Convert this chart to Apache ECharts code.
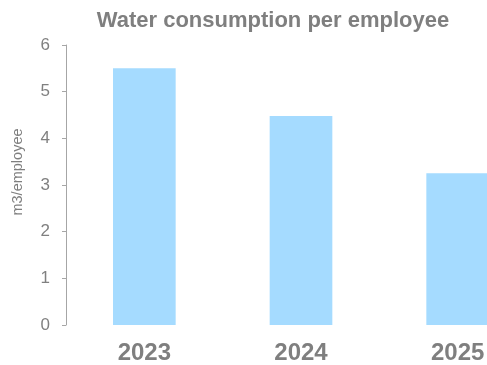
<!DOCTYPE html>
<html><head><meta charset="utf-8">
<script src="https://cdn.jsdelivr.net/npm/echarts@6/dist/echarts.min.js"></script>
<style>html,body{margin:0;padding:0;background:#fff;overflow:hidden;width:487px;height:365px}#c{width:536px;height:365px}</style>
</head><body><div id="c"></div>
<script>
var titleText = "Water consumption per employee";
var yAxisName = "m3/employee";
var categories = ["2023", "2024", "2025"];
var values = [5.5, 4.48, 3.25];
var yTicks = [0, 1, 2, 3, 4, 5, 6];

var chart = echarts.init(document.getElementById('c'), null, {renderer: 'canvas'});
chart.setOption({
  animation: false,
  backgroundColor: '#ffffff',
  title: {
    text: titleText, left: 268, top: 5, textAlign: 'center',
    textStyle: {fontFamily: 'Liberation Sans, Arial', fontSize: 22, fontWeight: 'bold', color: '#7f7f7f'}
  },
  grid: {left: 66, top: 45, bottom: 40, right: 0, containLabel: false},
  xAxis: {
    type: 'category', data: categories,
    axisLine: {show: false}, axisTick: {show: false},
    axisLabel: {margin: 16, fontFamily: 'Liberation Sans, Arial', fontSize: 24, fontWeight: 'bold', color: '#7f7f7f'}
  },
  yAxis: {
    type: 'value', min: yTicks[0], max: yTicks[yTicks.length - 1], interval: 1,
    name: yAxisName, nameLocation: 'middle', nameGap: 41, nameRotate: 90,
    nameTextStyle: {fontFamily: 'Liberation Sans, Arial', fontSize: 14.5, color: '#7f7f7f', padding: [0, 0, 0, 26]},
    axisLine: {show: true, lineStyle: {color: '#a6a6a6', width: 1}},
    axisTick: {show: true, inside: false, length: 4, lineStyle: {color: '#a6a6a6'}},
    splitLine: {show: false},
    axisLabel: {margin: 16, fontFamily: 'Liberation Sans, Arial', fontSize: 17, color: '#808080'}
  },
  series: [{
    type: 'bar', data: values, barWidth: '40%',
    itemStyle: {color: '#a5dbff'}
  }]
});
</script></body></html>
